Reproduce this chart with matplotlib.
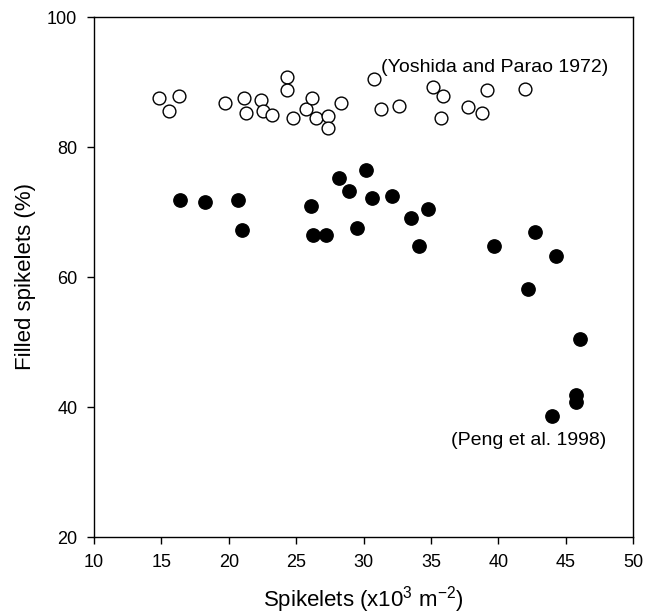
import matplotlib
matplotlib.use('Agg')
from matplotlib import pyplot as plt

plt.rcParams['font.family'] = ['Liberation Sans', 'DejaVu Sans']
plt.rcParams['mathtext.fontset'] = 'custom'
plt.rcParams['mathtext.rm'] = 'Liberation Sans'
plt.rcParams['mathtext.it'] = 'Liberation Sans'

# Yoshida and Parao 1972 (open circles)
yoshida_x = [14.8, 16.3, 15.6, 19.7, 21.1, 21.3, 22.4, 22.55, 23.2, 24.3, 24.3, 24.75, 25.75, 26.2,
             26.45, 27.4, 27.4, 28.3, 30.75, 31.3, 32.6, 35.15, 35.9, 35.75, 37.75, 38.8, 39.2, 41.95]
yoshida_y = [87.6, 87.9, 85.6, 86.8, 87.6, 85.2, 87.2, 85.6, 84.9, 90.8, 88.7, 84.4, 85.9, 87.5,
             84.5, 84.8, 83.0, 86.8, 90.4, 85.8, 86.3, 89.2, 87.8, 84.4, 86.1, 85.3, 88.7, 89.0]

# Peng et al. 1998 (filled circles)
peng_x = [16.4, 18.25, 20.7, 20.95, 26.1, 26.25, 27.2, 28.15, 28.9, 30.2, 29.5, 30.6, 32.1, 33.5,
          34.8, 34.1, 39.65, 42.7, 44.3, 42.2, 46.1, 45.75, 45.75, 44.0]
peng_y = [71.9, 71.6, 71.8, 67.3, 71.0, 66.5, 66.5, 75.3, 73.3, 76.4, 67.6, 72.2, 72.5, 69.1,
          70.5, 64.7, 64.8, 66.9, 63.2, 58.1, 50.4, 41.9, 40.7, 38.6]

fig = plt.figure(figsize=(6.45, 6.15), dpi=100)
ax = fig.add_axes([94/645, 78/615, 539/645, 520/615])

ax.plot(yoshida_x, yoshida_y, 'o', markersize=9.2, markerfacecolor='white',
        markeredgecolor='black', markeredgewidth=1.0, linestyle='none')
ax.plot(peng_x, peng_y, 'o', markersize=9.6, color='black', linestyle='none')

ax.text(48.2, 92.2, '(Yoshida and Parao 1972)', ha='right', va='center', fontsize=14)
ax.text(48.0, 34.9, '(Peng et al. 1998)', ha='right', va='center', fontsize=14)

ax.set_xlim(10, 50)
ax.set_ylim(20, 100)
ax.set_xticks(range(10, 51, 5))
ax.set_yticks(range(20, 101, 20))
ax.tick_params(direction='out', length=5, width=1, pad=7, labelsize=13, top=False, right=False)
for s in ax.spines.values():
    s.set_linewidth(1)

ax.set_xlabel('Spikelets (x10$^{3}$ m$^{-2}$)', fontsize=16, labelpad=10)
ax.set_ylabel('Filled spikelets (%)', fontsize=16, labelpad=8)

fig.savefig('out.png', dpi=100)
